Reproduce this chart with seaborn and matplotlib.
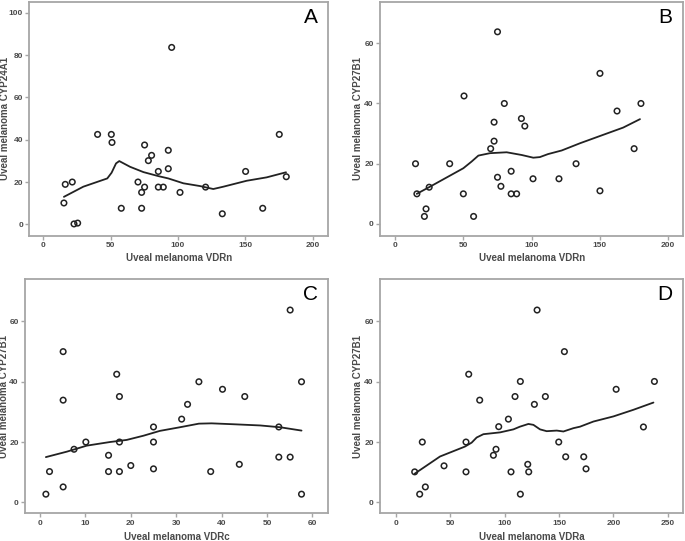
import matplotlib
matplotlib.use('Agg')
import pandas as pd
import matplotlib.pyplot as plt
import numpy as np
import seaborn as sns

# Panel A: VDRn vs CYP24A1
a_x = [15.3, 16.3, 21.5, 22.8, 25.5, 40.3, 50.5, 51, 57.9, 70.3, 73, 73, 75.2, 75.2, 78,
       80.4, 85.4, 85.4, 89.1, 92.8, 92.8, 95.3, 101.5, 120.5, 132.9, 150.2, 162.9, 175.2, 180.4]
a_y = [10.1, 18.9, 20, 0.2, 0.6, 42.5, 42.5, 38.7, 7.6, 20, 15.1, 7.6, 17.6, 37.5, 30.1,
       32.6, 25, 17.6, 17.6, 35, 26.3, 83.6, 15.1, 17.6, 5, 25, 7.6, 42.5, 22.5]
a_fit_x = [15.3, 29.7, 47.5, 50.7, 54, 56.4, 64.4, 74.3, 85.4, 92.8, 104, 116.3, 126.2, 133.7, 151, 165.8, 180.2]
a_fit_y = [13, 17.8, 21.7, 24.4, 28.8, 29.9, 27.2, 24.7, 22.8, 21.7, 19.4, 18.1, 16.7, 17.8, 20.6, 22.2, 24.6]

# Panel B: VDRn vs CYP27B1
b_x = [15, 16, 21.5, 22.7, 25, 40, 50, 50.5, 57.5, 70, 72.5, 72.5, 75, 75, 77.5, 80, 85, 85,
       89, 92.5, 95, 101, 120, 132.5, 150, 150, 162.5, 175, 180]
b_y = [20, 10, 2.5, 5, 12.2, 20, 10, 42.5, 2.5, 25, 33.8, 27.5, 63.8, 15.5, 12.5, 40, 17.5, 10,
       10, 35, 32.5, 15, 15, 20, 50, 11, 37.5, 25, 40]
b_fit_x = [15.9, 24.9, 50, 56, 61, 69.5, 81.7, 92.7, 101.2, 106, 112, 122, 135.4, 152.4, 167, 179.3]
b_fit_y = [10, 12.2, 18.5, 20.7, 22.7, 23.5, 23.8, 22.9, 22, 22.2, 23.2, 24.4, 26.8, 29.6, 32, 34.8]

# Panel C: VDRc vs CYP27B1
c_x = [1.3, 2.1, 5.1, 5.1, 5.1, 7.5, 10.1, 15.1, 15.1, 16.9, 17.5, 17.5, 17.5, 20, 25, 25, 25,
       31.2, 32.5, 35, 37.6, 40.2, 43.9, 45.1, 52.6, 52.6, 55.1, 55.1, 57.6, 57.6]
c_y = [2.7, 10.2, 50, 33.9, 5.1, 17.6, 20, 15.6, 10.2, 42.5, 35.1, 20, 10.2, 12.2, 25, 20, 11.1,
       27.6, 32.5, 40, 10.2, 37.5, 12.6, 35.1, 25, 15, 63.8, 15, 40, 2.7]
c_fit_x = [1.3, 5.9, 10.3, 15.4, 19.1, 22.8, 26.4, 30.8, 35, 37.8, 42.6, 48.5, 52.9, 57.6]
c_fit_y = [15, 16.8, 18.8, 20, 20.7, 22.1, 23.7, 24.9, 26.1, 26.2, 25.9, 25.5, 24.9, 23.8]

# Panel D: VDRa vs CYP27B1
d_x = [17.2, 21.8, 24.2, 27, 44.2, 64.4, 64.4, 66.9, 77, 89.6, 92, 94.5, 103.4, 105.8, 109.5,
       114.4, 114.4, 121.2, 122.1, 127.3, 129.8, 137.4, 149.7, 154.9, 156.1, 172.7, 174.8,
       202.5, 227.6, 237.7]
d_y = [10.1, 2.7, 20, 5.1, 12.1, 20, 10.1, 42.5, 33.9, 15.6, 17.6, 25.1, 27.6, 10.1, 35.1,
       40.1, 2.7, 12.6, 10.1, 32.5, 63.8, 35.1, 20, 50, 15.1, 15.1, 11.1, 37.5, 25, 40.1]
d_fit_x = [17.2, 40.5, 63.5, 69.6, 74.2, 80.4, 95.7, 108, 114, 121.8, 126.4, 132.5, 138.6,
           147.9, 154, 163.2, 169.3, 181.6, 200, 218.4, 236.8]
d_fit_y = [9.5, 15.2, 18.5, 19.8, 21.5, 22.6, 23.2, 24.2, 25.1, 26, 25.7, 24.2, 23.6,
           23.8, 23.5, 24.6, 25.1, 26.8, 28.5, 30.7, 33.1]

panels = [
    ('A', a_x, a_y, a_fit_x, a_fit_y, 'Uveal melanoma VDRn', 'Uveal melanoma CYP24A1',
     (-10.4, 211.6), (-5.5, 105.2), [0, 50, 100, 150, 200], [0, 20, 40, 60, 80, 100],
     [29.3 / 685, 1 - 236 / 541, 299 / 685, 234.3 / 541], (-0.064, -0.072)),
    ('B', b_x, b_y, b_fit_x, b_fit_y, 'Uveal melanoma VDRn', 'Uveal melanoma CYP27B1',
     (-11, 211), (-4, 73.8), [0, 50, 100, 150, 200], [0, 20, 40, 60],
     [380 / 685, 1 - 236 / 541, 303.3 / 685, 234.3 / 541], (-0.056, -0.072)),
    ('C', c_x, c_y, c_fit_x, c_fit_y, 'Uveal melanoma VDRc', 'Uveal melanoma CYP27B1',
     (-3.3, 63.5), (-3.65, 74), [0, 10, 20, 30, 40, 50, 60], [0, 20, 40, 60],
     [25 / 685, 1 - 513.3 / 541, 303.3 / 685, 234 / 541], (-0.052, -0.08)),
    ('D', d_x, d_y, d_fit_x, d_fit_y, 'Uveal melanoma VDRa', 'Uveal melanoma CYP27B1',
     (-14.7, 264), (-3.65, 74), [0, 50, 100, 150, 200, 250], [0, 20, 40, 60],
     [380 / 685, 1 - 513.3 / 541, 303 / 685, 234 / 541], (-0.056, -0.08)),
]

sns.set_style("ticks")
plt.rcParams['font.family'] = ['Liberation Sans', 'DejaVu Sans']

fig = plt.figure(figsize=(6.85, 5.41), dpi=100)
spine_col = '#a6a6a6'
text_col = '#4a4a4a'

for letter, xs, ys, fx, fy, xlab, ylab, xlim, ylim, xt, yt, pos, lab_xy in panels:
    ax = fig.add_axes(pos)
    df = pd.DataFrame({'x': xs, 'y': ys})
    fit = pd.DataFrame({'x': fx, 'y': fy})
    sns.lineplot(data=fit, x='x', y='y', ax=ax, color='#222222', linewidth=1.3, sort=False)
    sns.scatterplot(data=df, x='x', y='y', ax=ax, marker='o', s=16,
                    facecolor='none', edgecolor='#222222', linewidth=1.1, zorder=3)
    ax.set_xlim(xlim)
    ax.set_ylim(ylim)
    ax.set_xticks(xt)
    ax.set_yticks(yt)
    ax.set_xlabel(xlab, fontsize=7, fontweight='bold', color=text_col)
    ax.set_ylabel(ylab, fontsize=7, fontweight='bold', color=text_col)
    ax.yaxis.set_label_coords(lab_xy[0], 0.5)
    ax.xaxis.set_label_coords(0.5, lab_xy[1])
    ax.tick_params(axis='both', labelsize=6, colors=text_col, length=3, width=1,
                   color=spine_col, pad=1.5)
    for lbl in ax.get_xticklabels() + ax.get_yticklabels():
        lbl.set_fontweight('bold')
    for sp in ax.spines.values():
        sp.set_color(spine_col)
        sp.set_linewidth(1.3)
    ax.text(0.965, 0.975, letter, transform=ax.transAxes, ha='right', va='top',
            fontsize=15, color='black')

plt.savefig('out.png', dpi=100)
